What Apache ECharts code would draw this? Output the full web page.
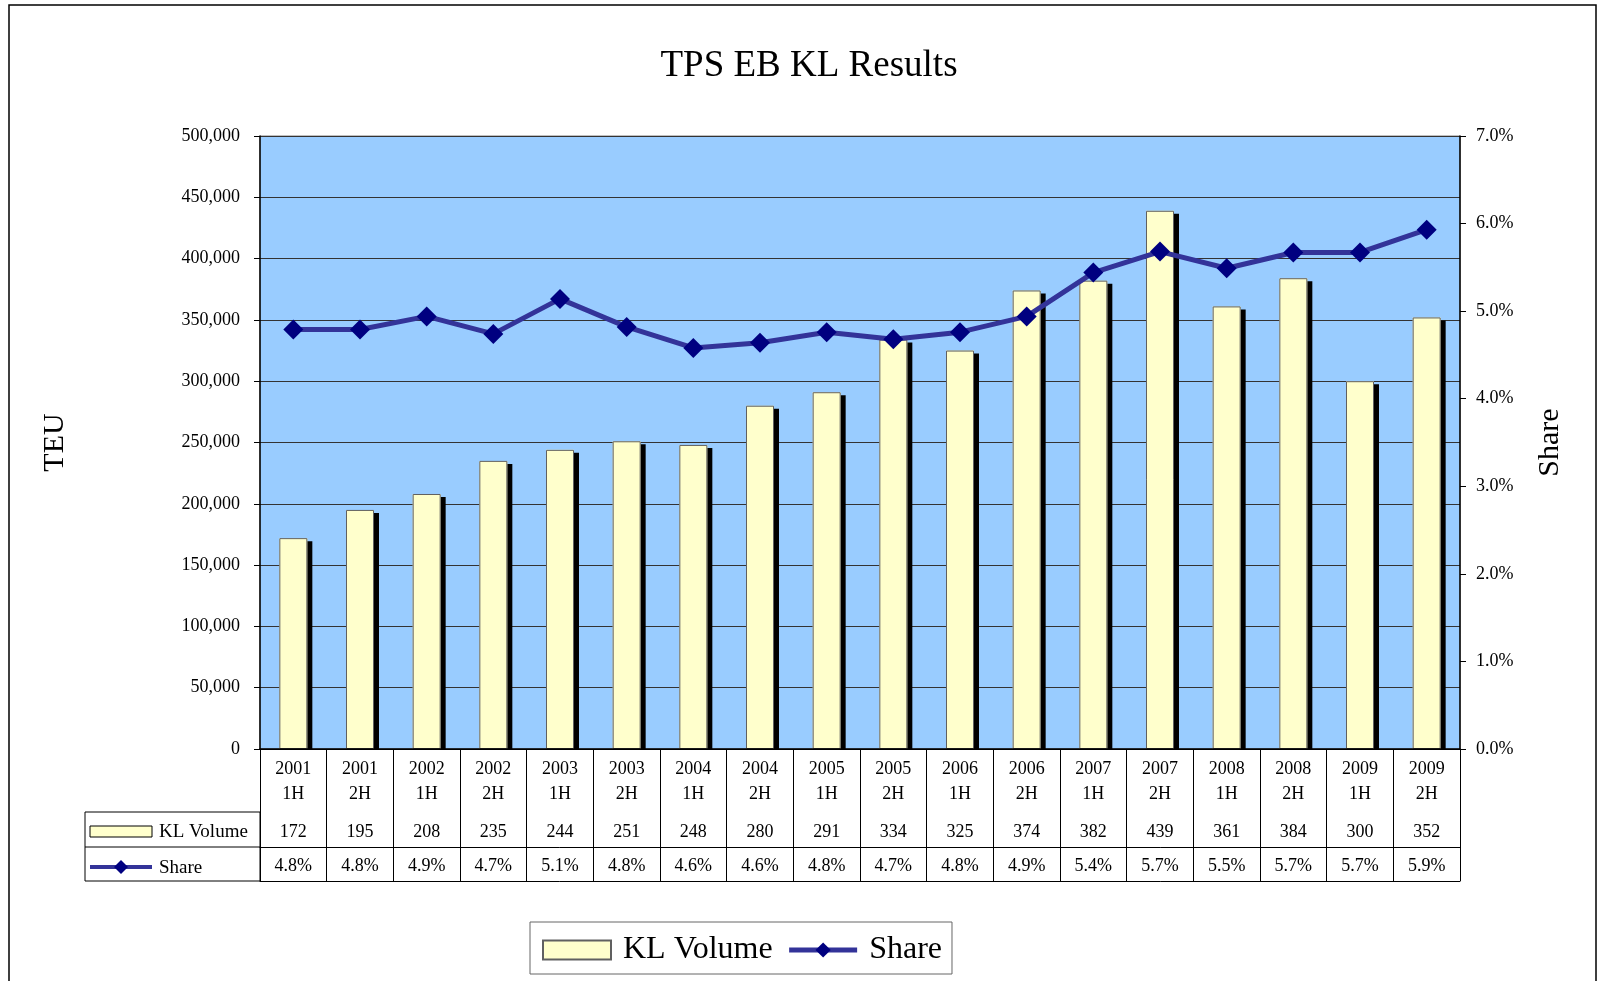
<!DOCTYPE html>
<html>
<head>
<meta charset="utf-8">
<script src="https://cdn.jsdelivr.net/npm/echarts@6/dist/echarts.min.js"></script>
<style>
    html, body { margin: 0; padding: 0; background: #fff; }
    #main { width: 1598px; height: 981px; }
</style>
</head>
<body>
<div id="main"></div>
<script>
// categories (year / half)
let years = ['2001', '2001', '2002', '2002', '2003', '2003', '2004', '2004', '2005', '2005',
    '2006', '2006', '2007', '2007', '2008', '2008', '2009', '2009'];
let halves = ['1H', '2H', '1H', '2H', '1H', '2H', '1H', '2H', '1H', '2H',
    '1H', '2H', '1H', '2H', '1H', '2H', '1H', '2H'];
// KL Volume in thousand TEU (as in the data table)
let volumeK = [172, 195, 208, 235, 244, 251, 248, 280, 291, 334, 325, 374, 382, 439, 361, 384, 300, 352];
// Share in percent
let share = [4.79, 4.79, 4.94, 4.74, 5.14, 4.82, 4.58, 4.64, 4.76, 4.68, 4.76, 4.94, 5.44, 5.68, 5.49, 5.67, 5.67, 5.93];
let leftTicks = [0, 500000, 50000];
let rightTicks = [0, 7, 1];

let categories = years.map((y, i) => y + '\n' + halves[i]);
let volume = volumeK.map(v => v * 1000);
let font = 'Liberation Serif';

let chart = echarts.init(document.getElementById('main'));

let tableAxis = (offset, show, fmt, margin) => ({
    type: 'category',
    data: categories,
    position: 'bottom',
    offset: offset,
    z: 10,
    axisLine: {show: true, lineStyle: {color: '#000', width: 1}},
    axisTick: {show: false},
    splitLine: {show: false},
    axisLabel: {
        show: show,
        interval: 0,
        margin: margin,
        color: '#000',
        fontFamily: font,
        fontSize: 18,
        lineHeight: 18,
        formatter: fmt
    }
});

let option = {
    backgroundColor: '#fff',
    animation: false,
    title: {
        text: 'TPS EB KL Results',
        left: 804,
        textAlign: 'center',
        top: 43,
        textStyle: {fontFamily: font, fontSize: 37, fontWeight: 'normal', color: '#000'}
    },
    legend: {
        left: 530,
        top: 922,
        padding: [12, 10, 8, 12],
        itemGap: 14,
        itemWidth: 68,
        itemHeight: 19,
        borderColor: '#666',
        borderWidth: 1,
        lineStyle: {width: 5},
        itemStyle: {shadowColor: 'transparent', shadowBlur: 0, shadowOffsetX: 0, shadowOffsetY: 0},
        textStyle: {fontFamily: font, fontSize: 32, color: '#000', padding: [0, 0, 0, 7]},
        data: [{name: 'KL Volume', icon: 'rect'}, 'Share']
    },
    grid: {
        left: 260, top: 136, right: 138, bottom: 232,
        show: true,
        backgroundColor: '#99CCFF',
        borderColor: '#808080',
        borderWidth: 1
    },
    xAxis: [
        {
            type: 'category',
            data: categories,
            position: 'bottom',
            z: 10,
            axisLine: {show: true, lineStyle: {color: '#000', width: 1.5}},
            axisTick: {show: true, interval: 0, length: 132, lineStyle: {color: '#000', width: 1}},
            axisLabel: {
                interval: 0, margin: 8, color: '#000',
                fontFamily: font, fontSize: 18, lineHeight: 25
            }
        },
        tableAxis(63, true, (v, i) => String(volumeK[i]), 11),
        tableAxis(98, true, (v, i) => share[i].toFixed(1) + '%', 10),
        tableAxis(132, false, null, 8)
    ],
    yAxis: [
        {
            type: 'value',
            min: leftTicks[0], max: leftTicks[1], interval: leftTicks[2],
            name: 'TEU',
            nameLocation: 'middle',
            nameGap: 190,
            nameTextStyle: {fontFamily: font, fontSize: 30, color: '#000'},
            axisLine: {show: true, lineStyle: {color: '#000', width: 1.5}},
            axisTick: {show: true, length: 6, lineStyle: {color: '#000'}},
            splitLine: {show: true, lineStyle: {color: '#333', width: 1}},
            axisLabel: {
                margin: 20, color: '#000', fontFamily: font, fontSize: 18,
                formatter: v => v.toLocaleString('en-US')
            }
        },
        {
            type: 'value',
            min: rightTicks[0], max: rightTicks[1], interval: rightTicks[2],
            name: 'Share',
            nameLocation: 'middle',
            nameGap: 75,
            nameRotate: 90,
            nameTextStyle: {fontFamily: font, fontSize: 30, color: '#000'},
            axisLine: {show: true, lineStyle: {color: '#000', width: 1.5}},
            axisTick: {show: true, length: 6, lineStyle: {color: '#000'}},
            splitLine: {show: false},
            axisLabel: {
                margin: 16, color: '#000', fontFamily: font, fontSize: 18,
                formatter: v => v.toFixed(1) + '%'
            }
        }
    ],
    series: [
        {
            // drop shadow behind the volume bars
            name: 'shadow',
            type: 'bar',
            xAxisIndex: 0,
            yAxisIndex: 0,
            barWidth: 28,
            barGap: '-100%',
            silent: true,
            data: volume,
            itemStyle: {
                color: '#FFFFCC',
                shadowColor: '#000',
                shadowBlur: 0,
                shadowOffsetX: 5,
                shadowOffsetY: 3
            }
        },
        {
            name: 'KL Volume',
            type: 'bar',
            xAxisIndex: 0,
            yAxisIndex: 0,
            barWidth: 28,
            barGap: '-100%',
            data: volume,
            itemStyle: {
                color: '#FFFFCC',
                borderColor: '#606060',
                borderWidth: 1
            }
        },
        {
            name: 'Share',
            type: 'line',
            xAxisIndex: 0,
            yAxisIndex: 1,
            data: share,
            symbol: 'diamond',
            symbolSize: 20,
            lineStyle: {color: '#333399', width: 5},
            itemStyle: {color: '#000080'},
            z: 5
        }
    ],
    graphic: [
        // outer chart border
        {type: 'rect', shape: {x: 9, y: 5, width: 1587, height: 1000},
            style: {fill: null, stroke: '#000', lineWidth: 1.5}, silent: true},
        // hide shadow spilling under the category axis
        {type: 'rect', z: 5, shape: {x: 261, y: 750, width: 1198, height: 5},
            style: {fill: '#fff'}, silent: true},
        // left column of the data table
        {type: 'rect', shape: {x: 85, y: 812, width: 175, height: 69},
            style: {fill: null, stroke: '#000', lineWidth: 1}},
        {type: 'line', shape: {x1: 85, y1: 847, x2: 260, y2: 847},
            style: {stroke: '#000', lineWidth: 1}},
        {type: 'rect', shape: {x: 90, y: 826, width: 62, height: 11},
            style: {fill: '#FFFFCC', stroke: '#000', lineWidth: 1}},
        {type: 'text', x: 159, y: 832,
            style: {text: 'KL Volume', fontFamily: font, fontSize: 19, fill: '#000', verticalAlign: 'middle'}},
        {type: 'line', shape: {x1: 90, y1: 867, x2: 152, y2: 867},
            style: {stroke: '#333399', lineWidth: 4}},
        {type: 'polygon', shape: {points: [[121, 860], [128, 867], [121, 874], [114, 867]]},
            style: {fill: '#000080'}},
        {type: 'text', x: 159, y: 868,
            style: {text: 'Share', fontFamily: font, fontSize: 19, fill: '#000', verticalAlign: 'middle'}}
    ]
};

chart.setOption(option);
</script>
</body>
</html>
